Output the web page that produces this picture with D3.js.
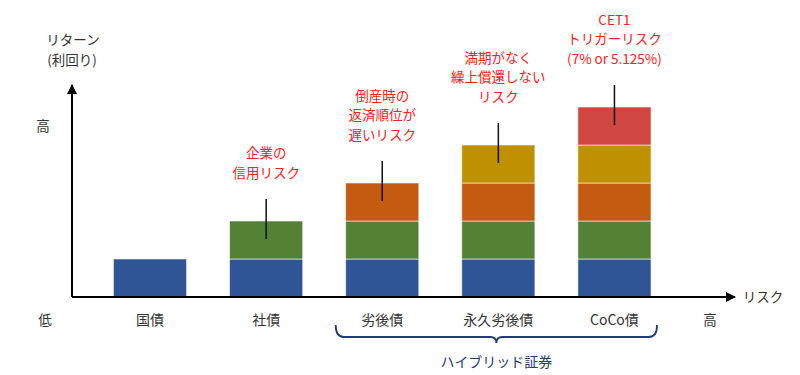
<!DOCTYPE html>
<html>
<head>
<meta charset="utf-8">
<script src="https://cdn.jsdelivr.net/npm/d3@7"></script>
<style>
  body { margin: 0; background: #fff; }
  svg { font-family: "Noto Sans CJK JP", "Noto Sans", sans-serif; }
</style>
</head>
<body>
<svg class="chart" width="800" height="375"></svg>
<script>
// categories and how many risk layers each bond stacks up
let categories = ["国債", "社債", "劣後債", "永久劣後債", "CoCo債"];
let layerCounts = [1, 2, 3, 4, 5];
let layerKeys = ["base", "credit", "subordinate", "perpetual", "cet1"];
let layerColors = ["#2F5597", "#548235", "#C55A11", "#BF9000", "#CF4740"];

// red notes above each bar (category, lines)
let noteCats = ["社債", "劣後債", "永久劣後債", "CoCo債"];
let noteLines = [
  ["企業の", "信用リスク"],
  ["倒産時の", "返済順位が", "遅いリスク"],
  ["満期がなく", "繰上償還しない", "リスク"],
  ["CET1", "トリガーリスク", "(7% or 5.125%)"]
];
let hybridCats = ["劣後債", "永久劣後債", "CoCo債"];

let svg = d3.select(".chart");
let lineGap = 19.6; // keeps stacked lines from colliding

let x = d3.scaleBand()
  .domain(categories)
  .range([92, 672.5])
  .paddingInner(0.37)
  .paddingOuter(0.185);

let y = d3.scaleLinear()
  .domain([0, 5])
  .range([297, 107]);

// build stacked rows: each layer is worth one unit
let rows = categories.map((c, i) => {
  let r = { name: c };
  layerKeys.forEach((k, j) => r[k] = j < layerCounts[i] ? 1 : 0);
  return r;
});
let series = d3.stack().keys(layerKeys)(rows);

let color = d3.scaleOrdinal().domain(layerKeys).range(layerColors);

svg.append("g")
  .selectAll("g")
  .data(series)
  .join("g")
  .attr("fill", d => color(d.key))
  .selectAll("rect")
  .data(d => d.filter(e => e[1] > e[0]))
  .join("rect")
    .attr("x", d => x(d.data.name))
    .attr("y", d => y(d[1]))
    .attr("width", x.bandwidth())
    .attr("height", d => y(d[0]) - y(d[1]))
    .attr("stroke", "rgba(255,255,255,0.7)")
    .attr("stroke-width", 0.8);

// axes with arrows
let defs = svg.append("defs");
defs.append("marker")
  .attr("id", "arrow")
  .attr("viewBox", "0 0 10 10")
  .attr("refX", 9).attr("refY", 5)
  .attr("markerWidth", 5).attr("markerHeight", 5)
  .attr("orient", "auto")
  .append("path")
  .attr("d", "M0,0 L10,5 L0,10 z")
  .attr("fill", "#000");

svg.append("line")
  .attr("x1", 72).attr("y1", y(0))
  .attr("x2", 735).attr("y2", y(0))
  .attr("stroke", "#000").attr("stroke-width", 2)
  .attr("marker-end", "url(#arrow)");
svg.append("line")
  .attr("x1", 72).attr("y1", y(0))
  .attr("x2", 72).attr("y2", 85)
  .attr("stroke", "#000").attr("stroke-width", 2)
  .attr("marker-end", "url(#arrow)");

// category labels
svg.append("g")
  .selectAll("text")
  .data(categories)
  .join("text")
    .attr("x", d => x(d) + x.bandwidth() / 2)
    .attr("y", 325)
    .attr("text-anchor", "middle")
    .attr("font-size", 14)
    .attr("fill", "#333")
    .text(d => d);

let plain = [
  { t: "低", x: 45, y: 325 },
  { t: "高", x: 710, y: 325 },
  { t: "高", x: 43, y: 131 },
  { t: "リスク", x: 763, y: 302 },
  { t: "リターン", x: 73, y: 45 },
  { t: "(利回り)", x: 72, y: 45 + lineGap }
];
svg.append("g")
  .selectAll("text")
  .data(plain)
  .join("text")
    .attr("x", d => d.x)
    .attr("y", d => d.y)
    .attr("text-anchor", "middle")
    .attr("font-size", 13.5)
    .attr("fill", "#333")
    .text(d => d.t);

// notes with the little pointer lines
noteCats.forEach((c, i) => {
  let cx = x(c) + x.bandwidth() / 2;
  let top = y(layerCounts[categories.indexOf(c)]);
  svg.append("line")
    .attr("x1", cx).attr("x2", cx)
    .attr("y1", top - 22).attr("y2", top + 18)
    .attr("stroke", "#111").attr("stroke-width", 1.5);
  let lines = noteLines[i];
  svg.append("g")
    .selectAll("text")
    .data(lines)
    .join("text")
      .attr("x", cx)
      .attr("y", (d, j) => top - 43 - (lines.length - 1 - j) * lineGap)
      .attr("text-anchor", "middle")
      .attr("font-size", 13.5)
      .attr("fill", "#FF2020")
      .text(d => d);
});

// bracket under the hybrid bonds
let bx0 = x(hybridCats[0]) - 10;
let bx1 = x(hybridCats[hybridCats.length - 1]) + x.bandwidth() + 6;
let bmid = x(hybridCats[1]) + x.bandwidth() / 2 - 2;
let navy = "#1F3C78";
svg.append("path")
  .attr("d", `M${bx0},325 Q${bx0},337 ${bx0 + 8},337 L${bmid - 6},337 Q${bmid},337 ${bmid},343 Q${bmid},337 ${bmid + 6},337 L${bx1 - 8},337 Q${bx1},337 ${bx1},325`)
  .attr("fill", "none")
  .attr("stroke", navy)
  .attr("stroke-width", 1.8);
svg.append("text")
  .attr("x", bmid)
  .attr("y", 367)
  .attr("text-anchor", "middle")
  .attr("font-size", 14)
  .attr("fill", navy)
  .text("ハイブリッド証券");
</script>
</body>
</html>
